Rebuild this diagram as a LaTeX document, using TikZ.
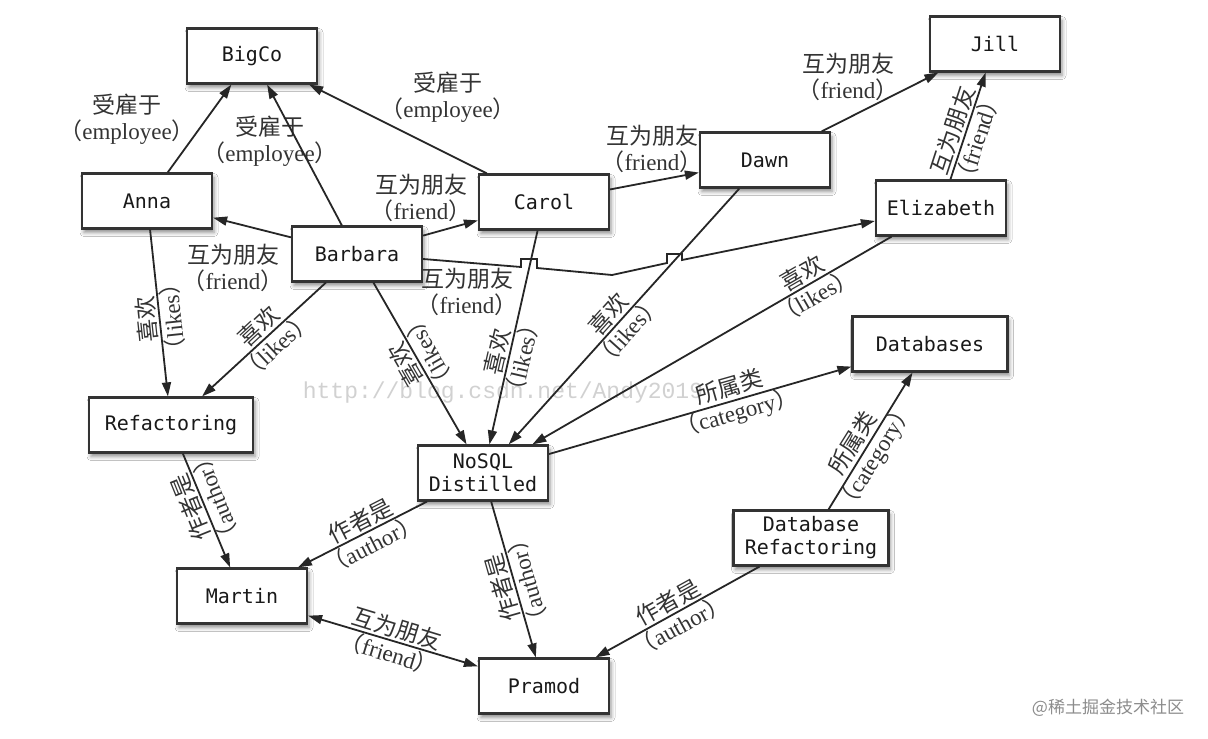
\documentclass[tikz,border=0pt]{standalone}
\usepackage{fontspec}
\setmainfont{Liberation Serif}
\newfontfamily\cjk{Noto Sans CJK SC}
\newfontfamily\boxfont{DejaVu Sans Mono}
\newfontfamily\markfont{Liberation Mono}
\usetikzlibrary{arrows.meta,shadows.blur}
\newcommand{\reltext}[2]{{\cjk #1}\\\kern-6pt{\cjk （}#2{\cjk ）}\kern-6pt}

\begin{document}
\begin{tikzpicture}[
    x=1pt, y=-1pt,
    entity/.style={rectangle, draw=black!80, line width=2.2pt, fill=white, minimum width=130pt, minimum height=55pt, align=center, text=black!90, font=\boxfont\fontsize{20}{23}\selectfont, blur shadow={shadow xshift=2pt, shadow yshift=-4pt, shadow blur radius=4pt, shadow opacity=45}},
    lab/.style={align=center, inner sep=0pt, text=black!80, font=\fontsize{23}{26}\selectfont},
    arr/.style={-{Triangle[length=14pt, width=9pt]}, line width=1.8pt, draw=black!85},
    both/.style={arr, {Triangle[length=14pt, width=9pt]}-{Triangle[length=14pt, width=9pt]}}
]
\fill[white] (0,0) rectangle (1208,739);
\useasboundingbox (0,0) rectangle (1208,739);

\node[text=black!18, font=\markfont\fontsize{23}{23}\selectfont] (csdnmark) at (503,393) {http://blog.csdn.net/Andy2019};
\node[text=black!45, font=\cjk\fontsize{17}{17}\selectfont] (juejinmark) at (1108,708) {@稀土掘金技术社区};

\node[entity] (bigco) at (252,56) {BigCo};
\node[entity] (anna) at (147,201) {Anna};
\node[entity] (barbara) at (357,254) {Barbara};
\node[entity] (carol) at (544,202) {Carol};
\node[entity] (dawn) at (765,160) {Dawn};
\node[entity] (jill) at (995,44) {Jill};
\node[entity] (elizabeth) at (941,208) {Elizabeth};
\node[entity, minimum width=155pt] (databases) at (930,344) {Databases};
\node[entity, minimum width=164pt] (refactoring) at (171,425) {Refactoring};
\node[entity] (nosql) at (483,473) {NoSQL\\Distilled};
\node[entity, minimum width=155pt] (dbrefactoring) at (811,538) {Database\\Refactoring};
\node[entity] (martin) at (242,596) {Martin};
\node[entity] (pramod) at (544,686) {Pramod};

\node[lab] (emp1) at (127,119) {\reltext{受雇于}{employee}};
\node[lab] (emp2) at (270,141) {\reltext{受雇于}{employee}};
\node[lab] (emp3) at (448,97) {\reltext{受雇于}{employee}};
\node[lab] (fr1) at (233,268) {\reltext{互为朋友}{friend}};
\node[lab] (fr2) at (421,198) {\reltext{互为朋友}{friend}};
\node[lab] (fr3) at (467,292) {\reltext{互为朋友}{friend}};
\node[lab] (fr4) at (652,149) {\reltext{互为朋友}{friend}};
\node[lab] (fr5) at (848,77) {\reltext{互为朋友}{friend}};

\draw[arr] (anna) -- (bigco);
\draw[arr] (barbara) -- (bigco);
\draw[arr] (carol) -- (bigco);
\draw[arr] (barbara) -- (anna);
\draw[arr] (barbara) -- (carol);
\draw[arr] ([yshift=-5pt]barbara.east) -- (521,267) -- ++(0,-8) -- ++(16,0) -- ++(0,9) -- (612,275) -- (667,263) -- ++(0,-9) -- ++(15,0) -- ++(0,6) -- ([yshift=-13pt]elizabeth.west);
\draw[arr] (carol) -- (dawn);
\draw[arr] (dawn) -- (jill);
\draw[arr] (elizabeth) -- node[lab, pos=.42, rotate=72] (fr6) {\reltext{互为朋友}{friend}} (jill);
\draw[arr] (anna) -- node[lab, pos=.53, rotate=96] (lk1) {\reltext{喜欢}{likes}} (refactoring);
\draw[arr] (barbara) -- node[lab, pos=.47, rotate=43] (lk2) {\reltext{喜欢}{likes}} (refactoring);
\draw[arr] (barbara) -- node[lab, pos=.47, rotate=120] (lk3) {\reltext{喜欢}{likes}} (nosql);
\draw[arr] (carol) -- node[lab, pos=.58, rotate=77] (lk4) {\reltext{喜欢}{likes}} (nosql);
\draw[arr] (dawn) -- node[lab, pos=.525, rotate=48] (lk5) {\reltext{喜欢}{likes}} (nosql);
\draw[arr] (elizabeth) -- node[lab, pos=.23, rotate=30] (lk6) {\reltext{喜欢}{likes}} (nosql);
\draw[arr] (nosql) -- node[lab, pos=.61, rotate=16] (cat1) {\reltext{所属类}{category}} (databases);
\draw[arr] (dbrefactoring) -- node[lab, pos=.43, rotate=58] (cat2) {\reltext{所属类}{category}} (databases);
\draw[arr] (refactoring) -- node[lab, pos=.43, rotate=112] (au1) {\reltext{作者是}{author}} (martin);
\draw[arr] (nosql) -- node[lab, pos=.47, rotate=27] (au2) {\reltext{作者是}{author}} (martin);
\draw[arr] (nosql) -- node[lab, pos=.53, rotate=106] (au3) {\reltext{作者是}{author}} (pramod);
\draw[arr] (dbrefactoring) -- node[lab, pos=.52, rotate=29] (au4) {\reltext{作者是}{author}} (pramod);
\draw[both] (martin) -- node[lab, pos=.5, rotate=-17] (fr7) {\reltext{互为朋友}{friend}} (pramod);
\end{tikzpicture}
\end{document}
